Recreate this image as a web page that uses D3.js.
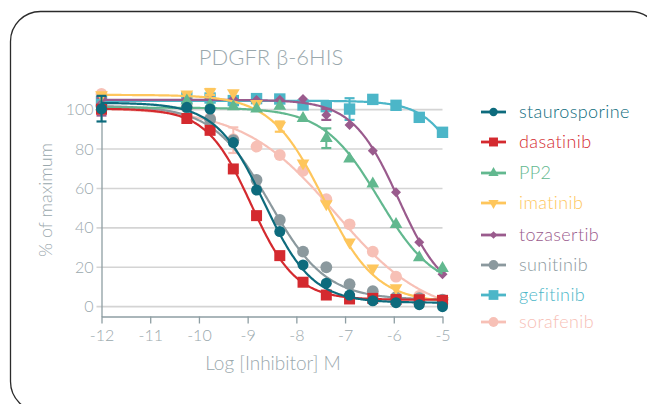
<!DOCTYPE html>
<html>
<head>
<meta charset="utf-8">
<script src="https://cdn.jsdelivr.net/npm/d3@7/dist/d3.min.js"></script>
<style>
  html, body { margin: 0; padding: 0; background: #fff; }
  svg { display: block; font-family: Lato, "Open Sans", sans-serif; font-weight: 300; }
</style>
</head>
<body>
<svg id="chart" width="647" height="404"></svg>
<script>
// Log10 of inhibitor concentration (M): control point plus a 3-fold dilution series from 10 µM
const logConc = [-12, -10.248, -9.771, -9.294, -8.817, -8.340, -7.863, -7.385, -6.908, -6.431, -5.954, -5.477, -5];

const seriesNames = ["staurosporine", "dasatinib", "PP2", "imatinib", "tozasertib", "sunitinib", "gefitinib", "sorafenib"];

// Activity, % of maximum
const staurosporine = [100.4, 101.2, 100.3, 83.3, 59.2, 38.1, 21.2, 11.9, 5.9, 3.0, 2.0, 1.0, 0.0];
const dasatinib     = [100.2, 95.5, 89.5, 69.9, 46.2, 25.9, 12.4, 5.9, 3.9, 4.2, 3.6, 3.5, 3.2];
const pp2           = [101.5, 104.5, 102.5, 101.5, 100.4, 101.8, 95.6, 85.5, 75.0, 62.3, 41.8, 24.9, 19.5];
const imatinib      = [107.5, 107.8, 109.0, 108.5, 103.0, 92.0, 72.8, 52.1, 32.7, 19.5, 9.5, 4.0, 3.0];
const tozasertib    = [103.0, 105.5, 105.5, 105.4, 104.9, 105.0, 105.4, 97.3, 92.2, 79.2, 58.1, 32.7, 16.4];
const sunitinib     = [102.0, 101.0, 95.1, 84.5, 64.3, 44.0, 27.9, 20.0, 11.4, 7.8, 4.8, 4.3, 3.6];
const gefitinib     = [104.0, 106.0, 105.9, 104.6, 105.6, 105.4, 102.4, 101.5, 100.3, 105.2, 102.2, 96.1, 88.5];
const sorafenib     = [108.0, 101.0, 95.5, 85.0, 81.2, 77.0, 69.0, 54.5, 41.8, 27.9, 15.2, 5.4, 1.7];

const seriesValues = [staurosporine, dasatinib, pp2, imatinib, tozasertib, sunitinib, gefitinib, sorafenib];

// Four-parameter logistic fit per inhibitor (same order as seriesNames)
const fitTop      = [103.5, 100.5, 101.0, 107.5, 105.0, 102.0, 104.5, 101.0];
const fitBottom   = [2.0, 3.5, 8.0, 2.0, 4.0, 3.5, 0.0, -6.0];
const fitLogIC50  = [-8.66, -8.93, -6.30, -7.44, -5.90, -8.55, -4.30, -7.20];
const fitHill     = [0.88, 0.95, 0.76, 0.80, 0.92, 0.75, 1.00, 0.46];

// Error bars (series, log concentration, low, high)
const errSeries = ["staurosporine", "tozasertib", "imatinib", "imatinib", "sorafenib", "PP2", "tozasertib", "gefitinib"];
const errLog    = [-12, -12, -9.771, -8.340, -9.294, -7.385, -7.385, -6.908];
const errLow    = [94.0, 97.0, 107.5, 88.8, 78.0, 80.5, 94.8, 94.8];
const errHigh   = [107.0, 106.0, 110.5, 94.0, 91.0, 90.5, 100.4, 105.8];

const xTicks = [-12, -11, -10, -9, -8, -7, -6, -5];
const yTicks = [0, 20, 40, 60, 80, 100];

const colors = {
  staurosporine: "#0d6b7d",
  dasatinib: "#d42a2f",
  PP2: "#62b88f",
  imatinib: "#fec65c",
  tozasertib: "#9a5b8d",
  sunitinib: "#8b999e",
  gefitinib: "#4cb6c8",
  sorafenib: "#f7c0b6"
};

const shapes = {
  staurosporine: { type: d3.symbolCircle, size: 95, rot: 0, lsize: 55 },
  dasatinib:     { type: d3.symbolSquare, size: 121, rot: 0, lsize: 80 },
  PP2:           { type: d3.symbolTriangle, size: 70, rot: 0, lsize: 45 },
  imatinib:      { type: d3.symbolTriangle, size: 70, rot: 180, lsize: 45 },
  tozasertib:    { type: d3.symbolSquare, size: 50, rot: 45, lsize: 30 },
  sunitinib:     { type: d3.symbolCircle, size: 110, rot: 0, lsize: 75 },
  gefitinib:     { type: d3.symbolSquare, size: 130, rot: 0, lsize: 95 },
  sorafenib:     { type: d3.symbolCircle, size: 110, rot: 0, lsize: 75 }
};

const svg = d3.select("#chart");

// Rounded frame
svg.append("rect")
  .attr("x", 10.5).attr("y", 11.5)
  .attr("width", 650).attr("height", 400)
  .attr("rx", 30).attr("ry", 30)
  .attr("fill", "none").attr("stroke", "#2b2b2b").attr("stroke-width", 1.3);

const x = d3.scaleLinear().domain([-12, -5]).range([101.5, 442.5]);
const y = d3.scaleLinear().domain([-5, 105]).range([316.5, 99.8]);

const axisColor = "#8e9ea3";
const textColor = "#9aa8ad";

// Title
svg.append("text")
  .attr("x", 271).attr("y", 65)
  .attr("text-anchor", "middle")
  .attr("font-size", 22)
  .attr("fill", textColor)
  .text("PDGFR β-6HIS");

// Horizontal gridlines
svg.append("g").selectAll("line").data(yTicks).join("line")
  .attr("x1", x(-12) - 5).attr("x2", x(-5))
  .attr("y1", d => y(d)).attr("y2", d => y(d))
  .attr("stroke", "#d4d4d4").attr("stroke-width", 1.6);

// Y axis
const yAxis = d3.axisLeft(y).tickValues(yTicks).tickSize(0).tickPadding(8);
const gy = svg.append("g").attr("transform", `translate(${x(-12)},0)`).call(yAxis);
gy.select(".domain").attr("stroke", axisColor).attr("stroke-width", 1.3);
gy.selectAll("text").attr("fill", textColor).attr("font-size", 16)
  .attr("font-family", "Lato, sans-serif").attr("font-weight", 300);

// X axis
const xAxis = d3.axisBottom(x).tickValues(xTicks).tickSize(7).tickSizeOuter(0).tickPadding(6).tickFormat(d => d);
const gx = svg.append("g").attr("transform", `translate(0,${y(-5)})`).call(xAxis);
gx.select(".domain").attr("stroke", axisColor).attr("stroke-width", 1.3);
gx.selectAll("line").attr("stroke", axisColor).attr("stroke-width", 1.3);
gx.selectAll("text").attr("fill", textColor).attr("font-size", 16)
  .attr("font-family", "Lato, sans-serif").attr("font-weight", 300);

// Axis titles
svg.append("text")
  .attr("x", 273).attr("y", 370)
  .attr("text-anchor", "middle").attr("font-size", 19).attr("fill", textColor)
  .text("Log [Inhibitor] M");

svg.append("text")
  .attr("transform", "translate(52,200) rotate(-90)")
  .attr("text-anchor", "middle").attr("font-size", 18).attr("fill", textColor)
  .text("% of maximum");

// Fitted curves, error bars and points; drawn back-to-front
const curveX = d3.range(-12, -4.999, 0.02);
const line = d3.line().x(d => x(d[0])).y(d => y(d[1])).curve(d3.curveLinear);
const plot = svg.append("g");

seriesNames.slice().reverse().forEach(name => {
  const i = seriesNames.indexOf(name);
  const col = colors[name];
  const g = plot.append("g");
  const pts = curveX.map(lx => [lx,
    fitBottom[i] + (fitTop[i] - fitBottom[i]) / (1 + Math.pow(10, fitHill[i] * (lx - fitLogIC50[i])))]);
  g.append("path").attr("d", line(pts))
    .attr("fill", "none").attr("stroke", col).attr("stroke-width", 2.2);

  errSeries.forEach((s, k) => {
    if (s !== name) return;
    const cx = x(errLog[k]);
    g.append("line").attr("x1", cx).attr("x2", cx)
      .attr("y1", y(errLow[k])).attr("y2", y(errHigh[k]))
      .attr("stroke", col).attr("stroke-width", 2);
    [errLow[k], errHigh[k]].forEach(v => {
      g.append("line").attr("x1", cx - 5).attr("x2", cx + 5)
        .attr("y1", y(v)).attr("y2", y(v))
        .attr("stroke", col).attr("stroke-width", 2.2);
    });
  });

  const sh = shapes[name];
  const sym = d3.symbol().type(sh.type).size(sh.size);
  g.selectAll("path.pt").data(seriesValues[i]).join("path")
    .attr("class", "pt")
    .attr("d", sym)
    .attr("transform", (d, j) => `translate(${x(logConc[j])},${y(d)}) rotate(${sh.rot})`)
    .attr("fill", col);
});

// Legend
const legendY = [112, 142, 173, 203, 235, 265, 295, 322];
const legend = svg.append("g");
seriesNames.forEach((name, i) => {
  const col = colors[name];
  const sh = shapes[name];
  const row = legend.append("g").attr("transform", `translate(481,${legendY[i]})`);
  row.append("line").attr("x1", 0).attr("x2", 25).attr("y1", 0).attr("y2", 0)
    .attr("stroke", col).attr("stroke-width", 2.8);
  row.append("path").attr("d", d3.symbol().type(sh.type).size(sh.lsize))
    .attr("transform", `translate(12.5,0) rotate(${sh.rot})`).attr("fill", col);
  row.append("text").attr("x", 38).attr("y", 0).attr("dy", "0.35em")
    .attr("font-size", 18).attr("letter-spacing", 0.4).attr("fill", col).text(name);
});
</script>
</body>
</html>
